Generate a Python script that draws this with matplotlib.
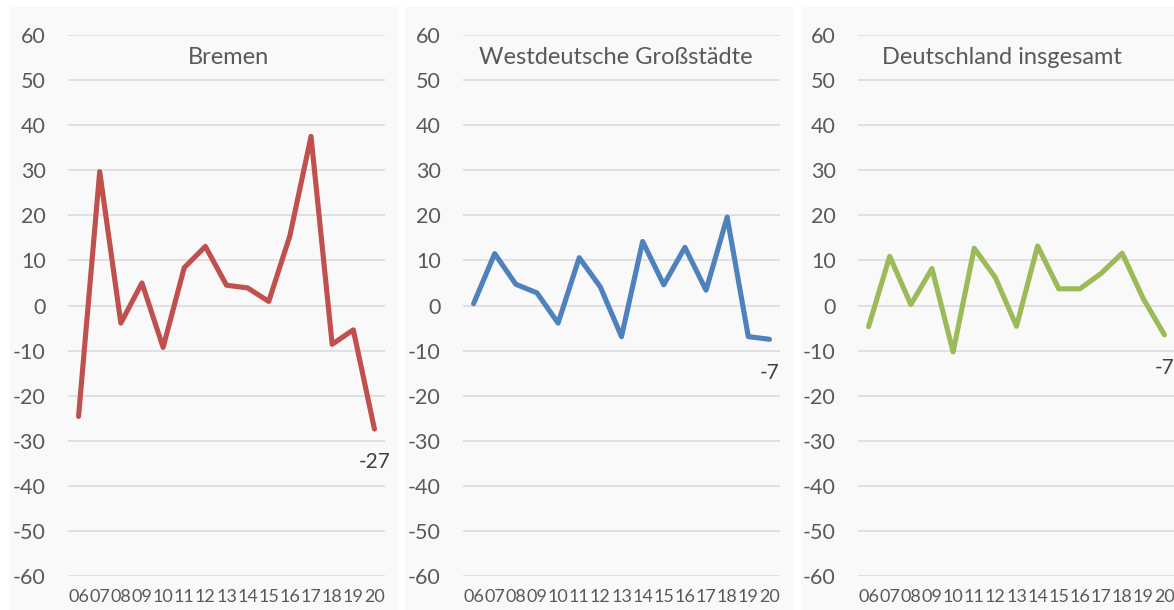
import matplotlib.pyplot as plt
from matplotlib.patches import Rectangle

plt.rcParams['font.family'] = ['Lato', 'DejaVu Sans']

years = ["06", "07", "08", "09", "10", "11", "12", "13", "14", "15", "16", "17", "18", "19", "20"]

bremen = [-24.6, 29.7, -3.9, 5.0, -9.3, 8.4, 13.1, 4.5, 3.9, 0.9, 15.5, 37.5, -8.6, -5.4, -27.4]
west = [0.4, 11.5, 4.7, 2.8, -3.9, 10.6, 4.1, -6.9, 14.2, 4.6, 12.9, 3.4, 19.6, -6.9, -7.5]
deutschland = [-4.7, 10.9, 0.2, 8.2, -10.3, 12.7, 6.2, -4.6, 13.2, 3.7, 3.7, 7.1, 11.6, 1.5, -6.5]

titles = ["Bremen", "Westdeutsche Großstädte", "Deutschland insgesamt"]
last_labels = ["-27", "-7", "-7"]
colors = ["#C0504D", "#4F81BD", "#9BBB59"]
yticks = list(range(-60, 61, 10))

W, H = 1174, 610
fig = plt.figure(figsize=(W / 100, H / 100), dpi=100)
fig.patch.set_facecolor("white")

# panel backgrounds (pixel left, right)
panels = [(10, 398), (405, 793), (801, 1180)]
# plot areas (pixel left, right)
plot_x = [(68, 385), (463, 780), (858, 1175)]
title_x = [0.505, 0.481, 0.454]
top_px, bottom_px = 35, 576

for (pl, pr) in panels:
    fig.patches.append(Rectangle((pl / W, 0), (pr - pl) / W, (H - 7) / H,
                                 transform=fig.transFigure, facecolor="#f9f9f9",
                                 edgecolor="none", zorder=-5))

series = [bremen, west, deutschland]
for i, vals in enumerate(series):
    x0, x1 = plot_x[i]
    ax = fig.add_axes([x0 / W, (H - bottom_px) / H, (x1 - x0) / W, (bottom_px - top_px) / H])
    ax.patch.set_visible(False)
    xs = range(len(years))
    ax.plot(xs, vals, color=colors[i], lw=3.7, solid_joinstyle="round",
            solid_capstyle="round", zorder=3, clip_on=False)
    ax.set_xlim(-0.5, len(years) - 0.5)
    ax.set_ylim(-60, 60)
    ax.set_yticks(yticks)
    ax.set_yticklabels([str(t) for t in yticks])
    ax.set_xticks(list(xs))
    ax.set_xticklabels(years)
    ax.grid(axis="y", color="#d9d9d9", lw=1.1)
    ax.set_axisbelow(True)
    for s in ax.spines.values():
        s.set_visible(False)
    ax.tick_params(axis="y", length=0, pad=16, labelsize=15.5, labelcolor="#595959")
    ax.tick_params(axis="x", length=0, pad=9.5, labelsize=13, labelcolor="#595959")
    ax.text(title_x[i], 0.958, titles[i], transform=ax.transAxes, ha="center",
            va="center", fontsize=17, color="#595959")
    ax.annotate(last_labels[i], (len(years) - 1, vals[-1]), xytext=(0, -24),
                textcoords="offset points", ha="center", va="center",
                fontsize=15, color="#404040", annotation_clip=False)

fig.savefig("out.png", dpi=100)
